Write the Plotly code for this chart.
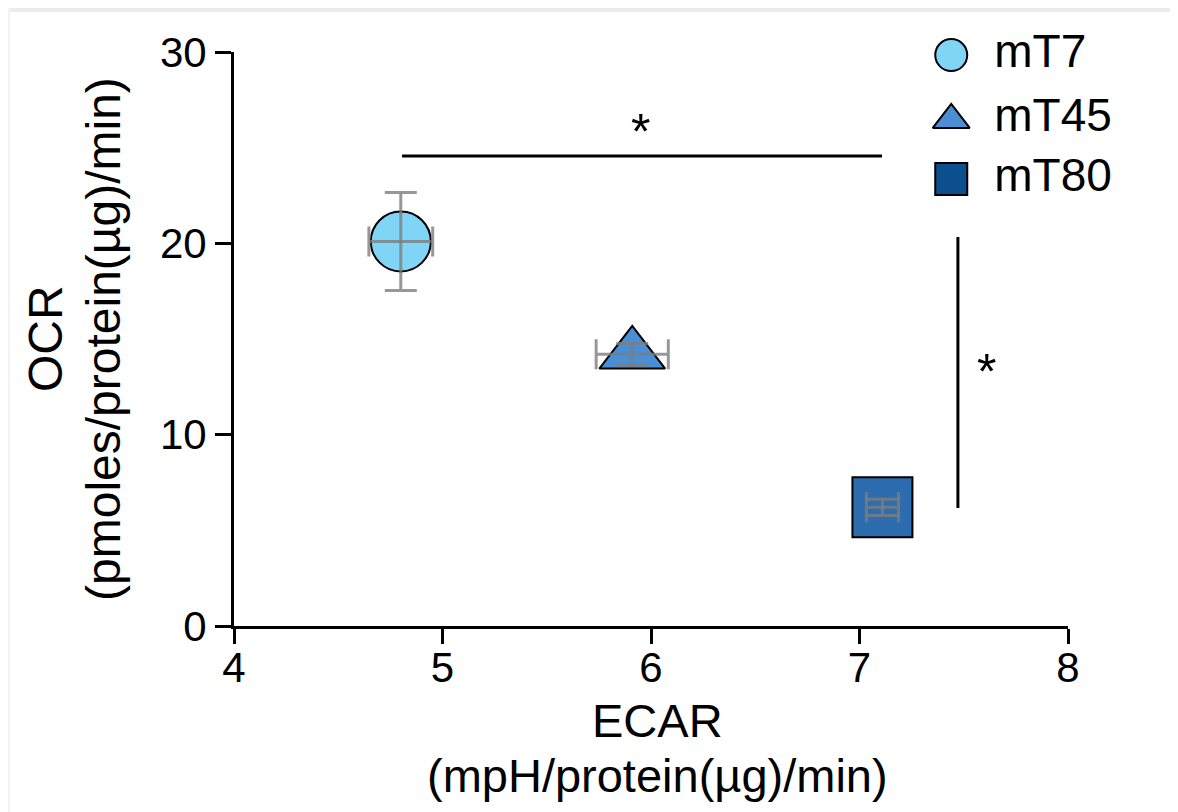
import plotly.graph_objects as go

groups = ["mT7", "mT45", "mT80"]
ecar = [4.80, 5.91, 7.11]
ecar_err = [0.153, 0.173, 0.077]
ocr = [20.1, 14.2, 6.2]
ocr_err = [2.56, 0.57, 0.42]
symbols = ["circle", "triangle-up", "square"]
colors = ["#80d4f5", "#4a8ed6", "#2e6cb0"]
legend_colors = ["#80d4f5", "#4a8ed6", "#0b4f8f"]
sizes = [60, 57, 60]

legend_x = [7.44, 7.44, 7.44]
legend_y = [29.84, 26.45, 23.36]

sig_h_x = [4.806, 7.108]
sig_h_y = [24.56, 24.56]
sig_v_x = [7.472, 7.472]
sig_v_y = [20.33, 6.17]
star_x = [5.952, 7.611]
star_y = [25.82, 13.28]

x_title = ["ECAR", "(mpH/protein(µg)/min)"]
y_title = ["OCR", "(pmoles/protein(µg)/min)"]

FONT = "Liberation Sans, Arial, sans-serif"
ERR = "rgba(125,125,125,0.8)"

fig = go.Figure()

for i, g in enumerate(groups):
    fig.add_trace(go.Scatter(
        x=[ecar[i]], y=[ocr[i]], mode="markers", showlegend=False, name=g,
        marker=dict(symbol=symbols[i], size=sizes[i], color=colors[i],
                    line=dict(color="black", width=2)),
        cliponaxis=False,
    ))
    fig.add_trace(go.Scatter(
        x=[ecar[i]], y=[ocr[i]], mode="markers", showlegend=False,
        marker=dict(size=1, opacity=0),
        error_x=dict(type="data", array=[ecar_err[i]], color=ERR, thickness=3, width=15),
        error_y=dict(type="data", array=[ocr_err[i]], color=ERR, thickness=3, width=16),
        cliponaxis=False,
    ))

# legend drawn as markers + text
for i, g in enumerate(groups):
    fig.add_trace(go.Scatter(
        x=[legend_x[i]], y=[legend_y[i]], mode="markers+text", showlegend=False,
        text=[" \u2009" + g], textposition="middle right",
        textfont=dict(size=46, color="black", family=FONT),
        marker=dict(symbol=symbols[i], size=32, color=legend_colors[i],
                    line=dict(color="black", width=2)),
        cliponaxis=False,
    ))

# significance lines
fig.add_trace(go.Scatter(x=sig_h_x, y=sig_h_y, mode="lines", showlegend=False,
                         line=dict(color="black", width=3), cliponaxis=False))
fig.add_trace(go.Scatter(x=sig_v_x, y=sig_v_y, mode="lines", showlegend=False,
                         line=dict(color="black", width=3), cliponaxis=False))

for sx, sy in zip(star_x, star_y):
    fig.add_annotation(x=sx, y=sy, text="*", showarrow=False,
                       font=dict(size=50, color="black", family=FONT))

# axis titles (two lines each, placed separately for exact line spacing)
for txt, yy in zip(x_title, [-0.1655, -0.2596]):
    fig.add_annotation(x=0.508, y=yy, xref="paper", yref="paper", text=txt,
                       showarrow=False, xanchor="center", yanchor="middle",
                       font=dict(size=47, color="black", family=FONT))
for txt, xx in zip(y_title, [-0.2266, -0.1571]):
    fig.add_annotation(x=xx, y=0.5, xref="paper", yref="paper", text=txt,
                       showarrow=False, xanchor="center", yanchor="middle", textangle=-90,
                       font=dict(size=48, color="black", family=FONT))

# light grey frame at the top/left edges of the image
fig.add_shape(type="rect", xref="paper", yref="paper", x0=-0.3, x1=1.2, y0=1.0697, y1=1.2,
              fillcolor="#ececec", line=dict(width=0), layer="below")
fig.add_shape(type="rect", xref="paper", yref="paper", x0=-0.3, x1=-0.2686, y0=-0.5, y1=1.2,
              fillcolor="#f2f2f2", line=dict(width=0), layer="below")

fig.update_layout(
    width=1170, height=804,
    margin=dict(l=226, r=110, t=44, b=186),
    paper_bgcolor="white", plot_bgcolor="white",
    font=dict(family=FONT, color="black"),
    xaxis=dict(range=[4, 8], tickvals=[4, 5, 6, 7, 8], showgrid=False, zeroline=False,
               showline=True, linecolor="black", linewidth=3, automargin=False,
               ticks="outside", ticklen=15, tickwidth=3, tickcolor="black",
               ticklabelstandoff=-12,
               tickfont=dict(size=42)),
    yaxis=dict(range=[0, 30], tickvals=[0, 10, 20, 30], showgrid=False, zeroline=False,
               showline=True, linecolor="black", linewidth=3, automargin=False,
               ticks="outside", ticklen=16, tickwidth=3, tickcolor="black",
               tickfont=dict(size=42)),
)

fig.write_html("out.html")
